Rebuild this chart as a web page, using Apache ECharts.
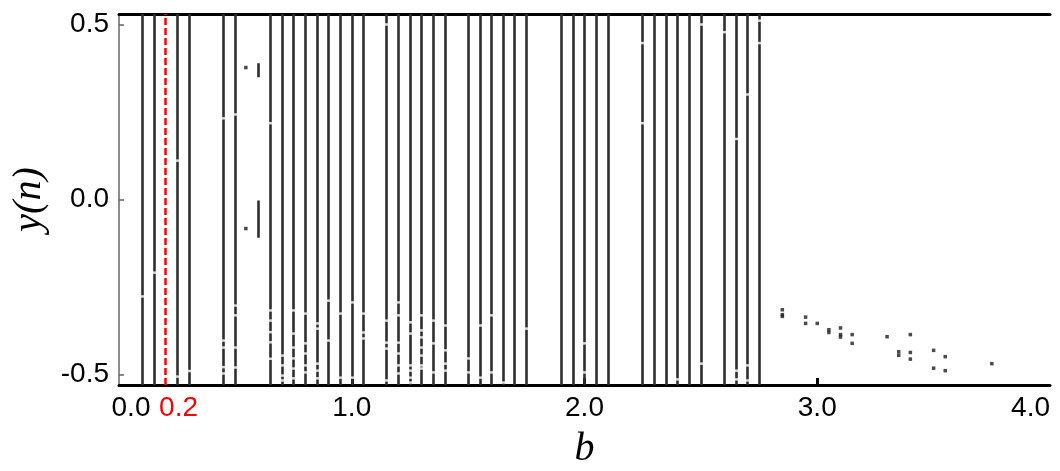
<!DOCTYPE html>
<html>
<head>
<meta charset="utf-8">
<script src="https://cdn.jsdelivr.net/npm/echarts@6/dist/echarts.min.js"></script>
<style>
  html, body { margin: 0; padding: 0; background: #fff; }
  #chart { width: 1060px; height: 471px; }
</style>
</head>
<body>
<div id="chart"></div>
<script>
// Parameter values b where the orbit fills the whole interval (chaotic bands)
const bandB = [0.10, 0.15, 0.25, 0.30, 0.45, 0.50, 0.65, 0.70, 0.75, 0.80, 0.85, 0.90, 0.95,
  1.00, 1.05, 1.15, 1.20, 1.25, 1.30, 1.35, 1.40, 1.50, 1.55, 1.60, 1.65, 1.70, 1.75,
  1.90, 1.95, 2.00, 2.05, 2.10, 2.25, 2.30, 2.35, 2.40, 2.45, 2.50, 2.60, 2.65, 2.70, 2.75];

// Values of y(n) that the orbit skips inside a band: [b, y]
const bandGaps = [
  [0.10, -0.277], [0.15, -0.209],
  [0.25, 0.111], [0.25, -0.506], [0.30, -0.490],
  [0.45, 0.232], [0.45, -0.403], [0.45, -0.423], [0.45, -0.479], [0.45, -0.497],
  [0.50, 0.243], [0.50, -0.303], [0.50, -0.331], [0.50, -0.423], [0.50, -0.480],
  [0.65, 0.218], [0.65, -0.317], [0.65, -0.346], [0.65, -0.379], [0.65, -0.408], [0.65, -0.455],
  [0.70, -0.446], [0.70, -0.474], [0.70, -0.503], [0.70, -0.517],
  [0.75, -0.317], [0.75, -0.383], [0.75, -0.423], [0.75, -0.454], [0.75, -0.483], [0.75, -0.511],
  [0.80, -0.326], [0.80, -0.411], [0.80, -0.440], [0.80, -0.474], [0.80, -0.494],
  [0.85, -0.354], [0.85, -0.369], [0.85, -0.469], [0.85, -0.489], [0.85, -0.511],
  [0.90, -0.289], [0.90, -0.403],
  [0.95, -0.326], [0.95, -0.509],
  [1.00, -0.294], [1.00, -0.509],
  [1.05, -0.326], [1.05, -0.380], [1.05, -0.397],
  [1.15, 0.500], [1.15, -0.346], [1.15, -0.409], [1.15, -0.426], [1.15, -0.517],
  [1.20, -0.294], [1.20, -0.331], [1.20, -0.409], [1.20, -0.440], [1.20, -0.474], [1.20, -0.497],
  [1.25, -0.351], [1.25, -0.383], [1.25, -0.474], [1.25, -0.489], [1.25, -0.509], [1.25, -0.523],
  [1.30, -0.331], [1.30, -0.374], [1.30, -0.394], [1.30, -0.423], [1.30, -0.446], [1.30, -0.474], [1.30, -0.483],
  [1.35, -0.346], [1.35, -0.411], [1.35, -0.494],
  [1.40, -0.360], [1.40, -0.431], [1.40, -0.469], [1.40, -0.489],
  [1.50, -0.454], [1.50, -0.494],
  [1.55, -0.360], [1.55, -0.509],
  [1.60, -0.331], [1.60, -0.494],
  [1.65, -0.523], [1.75, -0.369],
  [2.00, -0.411], [2.00, -0.494],
  [2.25, 0.447], [2.25, 0.218],
  [2.40, -0.514],
  [2.50, 0.500], [2.50, -0.469],
  [2.60, 0.478],
  [2.65, 0.173], [2.65, -0.489], [2.65, -0.514],
  [2.70, 0.300], [2.70, -0.474], [2.70, -0.517],
  [2.75, 0.511], [2.75, 0.447]
];

// Short intervals inside the periodic window: [b, yLow, yHigh]
const windowSegments = [[0.60, 0.349, 0.389], [0.60, -0.109, -0.003]];

// Isolated periodic points: [b, y]
const periodicPoints = [
  [0.545, 0.377], [0.545, -0.083],
  [2.85, -0.315], [2.85, -0.329], [2.85, -0.334],
  [2.95, -0.336], [2.95, -0.354],
  [3.00, -0.354],
  [3.05, -0.372], [3.05, -0.380],
  [3.10, -0.367], [3.10, -0.386], [3.10, -0.393],
  [3.15, -0.386], [3.15, -0.411],
  [3.30, -0.392],
  [3.35, -0.435], [3.35, -0.445],
  [3.40, -0.386], [3.40, -0.437], [3.40, -0.456],
  [3.50, -0.431], [3.50, -0.482],
  [3.55, -0.449], [3.55, -0.489],
  [3.75, -0.469]
];

// Highlighted parameter value
const markedB = 0.2;

// Axis settings
const xTicks = [0, 0.2, 1, 2, 3, 4];
const yTicks = [-0.5, 0, 0.5];
const Y_MIN = -0.53, Y_MAX = 0.53;

const chart = echarts.init(document.getElementById('chart'), null, { renderer: 'canvas' });

const tickFont = { fontFamily: 'Liberation Sans, Arial, sans-serif', fontSize: 28, color: '#000' };
const nameFont = { fontFamily: 'Liberation Serif, Times New Roman, serif', fontStyle: 'italic', fontSize: 40, color: '#000' };

chart.setOption({
  animation: false,
  backgroundColor: '#fff',
  grid: { left: 119, right: 10, top: 14, bottom: 86, containLabel: false, outerBoundsMode: 'none' },
  xAxis: [
    {
      type: 'value', min: 0, max: 4, position: 'bottom',
      name: 'b', nameLocation: 'middle', nameGap: 44, nameTextStyle: nameFont,
      axisLine: { onZero: false, lineStyle: { color: '#000', width: 3 } },
      axisTick: { inside: true, length: 7, customValues: [1, 2, 3], lineStyle: { color: '#000', width: 3 } },
      axisLabel: {
        customValues: xTicks, margin: 9, alignMaxLabel: 'right',
        ...tickFont,
        formatter: function (v) {
          if (v === 0) return '{s|0.0}';
          if (Math.abs(v - markedB) < 1e-9) return '{r|0.2}';
          return v.toFixed(1);
        },
        rich: {
          s: { ...tickFont, padding: [0, 0, 0, 24] },
          r: { ...tickFont, color: '#ff0000', padding: [0, 0, 0, 26] }
        }
      },
      splitLine: { show: false }
    },
    {
      type: 'value', min: 0, max: 4, position: 'top',
      axisLine: { onZero: false, lineStyle: { color: '#000', width: 3 } },
      axisTick: { show: false }, axisLabel: { show: false }, splitLine: { show: false }
    }
  ],
  yAxis: {
    type: 'value', min: Y_MIN, max: Y_MAX,
    name: 'y(n)', nameLocation: 'middle', nameGap: 64, nameTextStyle: nameFont,
    axisLine: { onZero: false, lineStyle: { color: '#666', width: 1.5 } },
    axisTick: { inside: true, length: 5, customValues: yTicks, lineStyle: { color: '#666', width: 1.5 } },
    axisLabel: { customValues: yTicks, margin: 10, ...tickFont, formatter: v => v.toFixed(1) },
    splitLine: { show: false }
  },
  series: [
    {
      name: 'bands', type: 'lines', coordinateSystem: 'cartesian2d', z: 2,
      lineStyle: { color: '#2e2e2e', width: 2.6, opacity: 1 },
      data: bandB.map(b => ({ coords: [[b, Y_MIN], [b, Y_MAX]] }))
    },
    {
      name: 'window', type: 'lines', coordinateSystem: 'cartesian2d', z: 2,
      lineStyle: { color: '#2e2e2e', width: 2.6, opacity: 1 },
      data: windowSegments.map(s => ({ coords: [[s[0], s[1]], [s[0], s[2]]] }))
    },
    {
      name: 'gaps', type: 'scatter', z: 3, silent: true,
      symbol: 'rect', symbolSize: [6, 2.5],
      itemStyle: { color: '#ffffff' },
      data: bandGaps
    },
    {
      name: 'points', type: 'scatter', z: 4,
      symbol: 'rect', symbolSize: 3.5,
      itemStyle: { color: '#1e1e1e' },
      data: periodicPoints
    },
    {
      name: 'marked', type: 'lines', coordinateSystem: 'cartesian2d', z: 5,
      lineStyle: { color: '#ff0000', width: 2.5, type: [7, 3], opacity: 1 },
      data: [{ coords: [[markedB, Y_MIN], [markedB, Y_MAX]] }]
    }
  ]
});
</script>
</body>
</html>
